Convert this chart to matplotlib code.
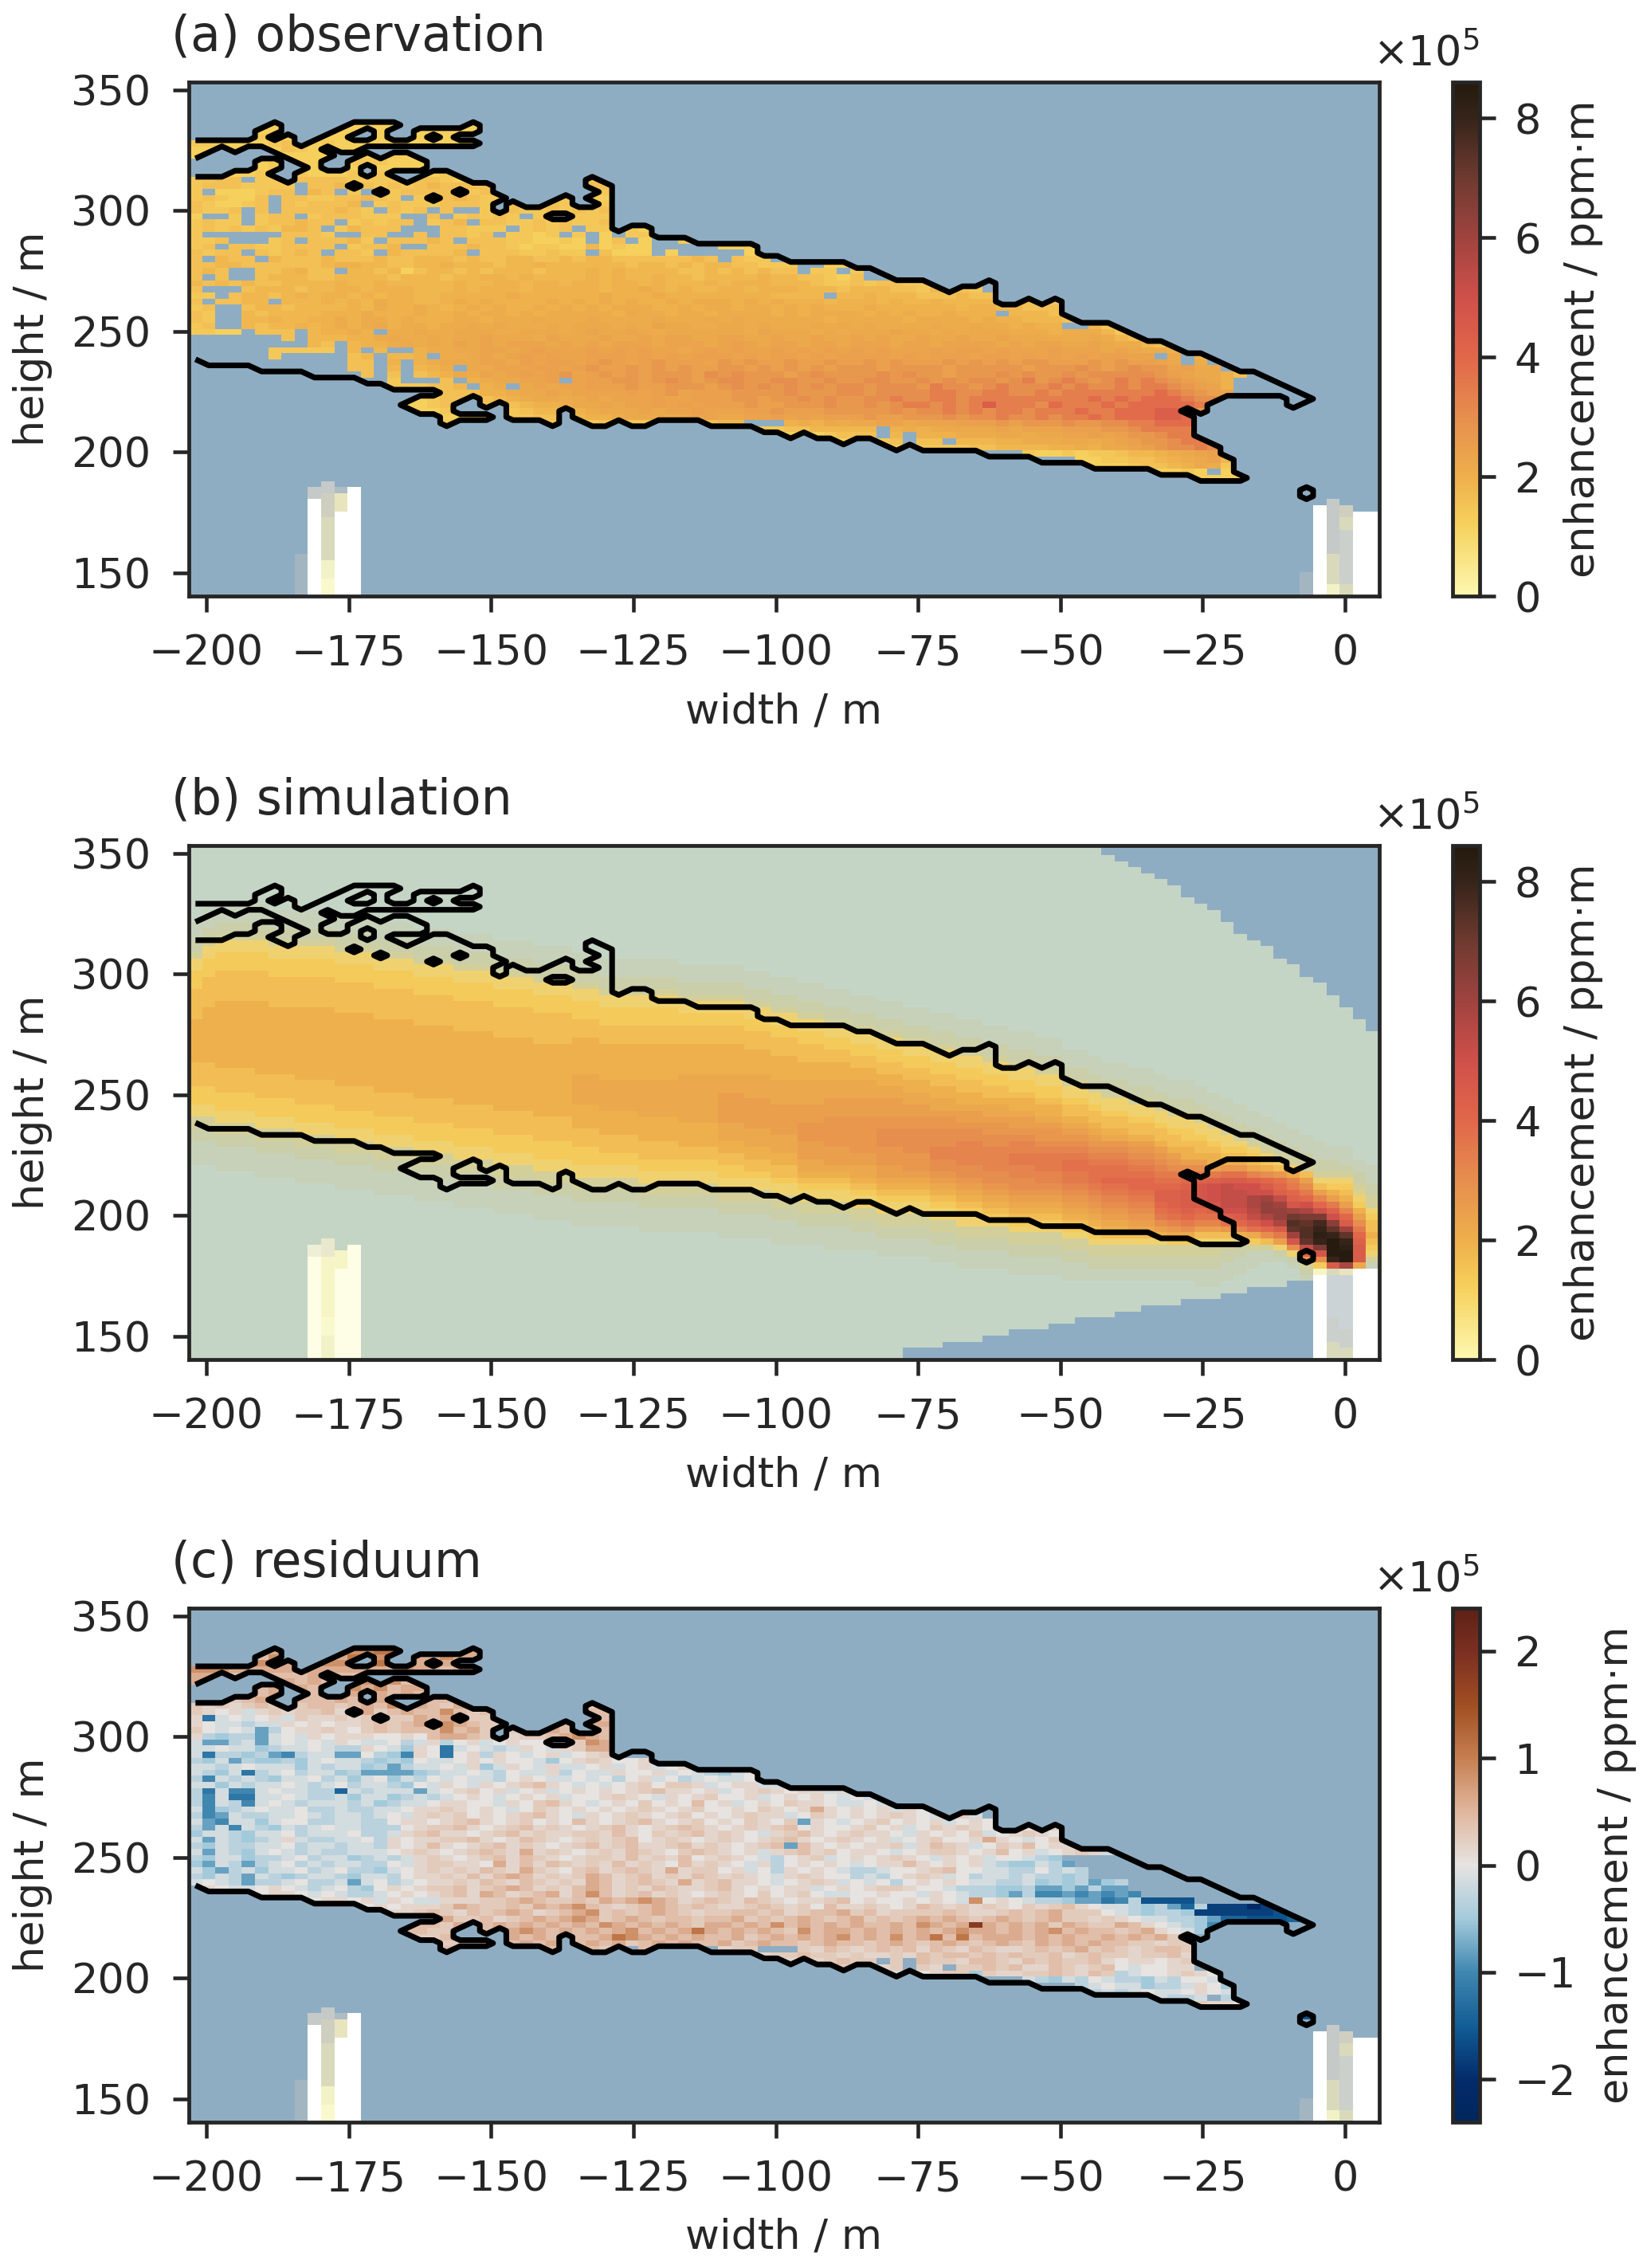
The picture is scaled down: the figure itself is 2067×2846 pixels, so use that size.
"""Plume enhancement maps: observation, simulation and residuum on a width/height grid."""
import numpy as np
import matplotlib
matplotlib.use('Agg')
import matplotlib.pyplot as plt
from matplotlib.cm import ScalarMappable
from matplotlib.colors import LinearSegmentedColormap, ListedColormap, Normalize, BoundaryNorm

NX, NY = 90, 85
LEVELS = '0123456789abcdefghijklmnopqrstuvwxyz'

X_EDGES = np.linspace(-203.07, 6.0, NX + 1)
Y_EDGES = np.linspace(354.4, 140.1, NY + 1)

titles = ['(a) observation', '(b) simulation', '(c) residuum']
x_ticks = [-200, -175, -150, -125, -100, -75, -50, -25, 0]
y_ticks = [150, 200, 250, 300, 350]

# plume outline: filled row runs for columns 0..84
mask_cols = [
    '10-12 16-45', '10-11 16-46', '10 16-46', '10-11 15-46', '10 15-46', '8-10 13-47',
    '7-8 10-11 13-14 16-47', '9-12 17-47', '11-13 15-47', '10-48', '9-10 12 15-48', '8-11 15-48',
    '7-8 10-11 13-16 18-48', '7 10 12-13 16-49', '7-10 13-17 19-49', '7 10 12-14 16-50',
    '10 12-14 17-50 53', '8-10 13-14 16-50 52-54', '8 10 15-18 20-50 52-54', '8-10 15-56',
    '8 10 16-17 19-52 55', '7-8 10 17-51 55', '17-53 55', '19 22-52', '20-55', '21-55', '21-55',
    '20-21 23-56', '19-21 23-53', '21-55', '16-17 19 21-56', '17-56', '25-55', '24-56', '24-56',
    '26-55', '26-55', '26-55', '27-55', '27-56', '27-56', '27-56', '27-56', '29-57', '29-57',
    '30-58', '30-57', '30-58', '30-58', '30-59', '31-58', '31-58', '32-59', '33-60', '33-59',
    '33-60', '34-60', '35-60', '34-60', '34-60', '33-61', '37-61', '37-61', '36-61', '37-62',
    '36-62', '39-62', '40-62', '40-63', '40-63', '41-63', '42-63', '43-63', '43-64', '44-64',
    '45-53 55-64', '45-54 59-65', '46-52 60-65', '47-51 62-65', '48-51 65', '48-51', '49-51',
    '50-51', '51-53', '52 67-68',
]

# observation, one string per row from row 7: first column | level per cell, '.' = below threshold
obs_levels = '456789abcdefghijk'
obs_values = [1.05, 1.2, 1.4, 1.6, 1.8, 1.95, 2.1, 2.2, 2.35, 2.45, 2.7, 3.0, 3.4, 3.9, 4.4, 4.9, 5.4]
obs_rows = [
    '0|5555555555 5555555555 5555',
    '0|5555555555 5555555555 5555',
    '0|5655565555 5555555555 5555',
    '0|6665556755 6555555555 5555',
    '0|5555555765 5555555555 5555',
    '0|5555555555 5565665555 5555',
    '0|5555556555 5566655555 5555',
    '0|5555656565 5556555555 5555',
    '0|5555566665 5565665556 6655',
    '0|6677.66777 7766666776 5677666666 66',
    '0|67776666.7 7877676787 7777777767 77',
    '0|6.555677.8 7.6.767777 6677777666 66',
    '0|676557.776 677876.677 8766677766 65',
    '0|765567.767 778.676667 7767766767 66',
    '0|7667.7.777 7876.767.7 ..67766767 67',
    '0|5..6.677.6 777666..7. 67676.6666 66',
    '0|6766.67787 7.67677.67 8.77667676 67',
    '0|6767676887 .68777...7 7666.6767. 66565',
    '0|6......777 6..77..7.7 767.6656.6 .5.66',
    '0|667...67.7 7786.77787 .777665565 .57.5..6',
    '0|67.7766777 7.6778..77 7877656655 85655.....555',
    '0|7677.76787 .776.87777 8.77766766 .7555.5.....5',
    '0|7.877.8777 8777877888 7877887787 8877777787 .766.',
    '0|7788777777 8998877889 8887889888 8887887878 877666..55',
    '0|787..77897 7.88785788 7878887888 9898888778 787877.66. 6.',
    '0|7.7..78887 7888878887 8899898888 9898898878 8889887765 7..',
    '0|8787877888 8988988888 9889989989 9899898889 8999888766 767766',
    '0|7...788878 8998999888 9899989999 9899a98988 9989998887 8887768776',
    '0|66.7887898 9989899889 9999a99999 9a999a9999 99998888.8 8988877787 7',
    '0|7.7788.888 9898a99889 a9a9999a9a 9a9a99a9aa a9a9a99989 9989889888 877766',
    '0|67..788788 8898a99a98 9a9a99a9a9 a9aaa99a9a a9aa9a9a99 9a99999989 988777',
    '0|76..878888 999a999a99 a9aa9a9aaa aa9baa9aa9 aaaa9a9aaa a9a9a99a99 9.8887',
    '0|76..889889 9a9aa9a999 aa9aaabaaa baaaabaaab abaaaaaa9a aaaa9aaaa9 a998887',
    '0|67..878898 9a9ab9aa9a ababaaabab bbabacbbaa bbabaaabab abaaaabaab aa9a99..86',
    '0|6655.777.8 99a9.aabaa bbbaabbbab cbbcbabbbb bbacbbbaba bbbcbbabab bbaaa9aaa8 6',
    '0|.......7.8 8899abaaba bbcbbbacbb bcbbcbccbb ccbbcbbcbb cbcbbcbbcb bcbbbaaaba 87',
    '0|.........8 7.899ababa cbcbcccbcb cbcccbcccb cdcbccbccb cccbccbccc cbcbccbbcb aa87',
    '0|......6666 6.8.8..9aa bbccbcdccc dcdcdccbcd cdccdcdcdc dcdcccdcdd cdcccdcccb cbaa97',
    '0|......6... ..78.889.a abcbcdcdcc dddcdcdcdd dcdcddcdcd dddcdcdddc ddcdcdcdcd dcc.b.9',
    '10|..77.9.9ab bbccbdcddc dedcdedddc ededdedded dededddede dedeeddded eddcb.a.',
    '10|..77.8.89a .bbcccddcd eddedededd eedededede eedeeeedee eeedeeefed efeecdbb',
    '10|...7.7.789 bacbcdcdec dededeeedf efeeedefee eefefeedee efefeefeff fffedcbb97',
    '10|.....6...7 .9abbccd.c ddeedefede ffeeffeefe effeefefef fefgefgfef gfgfedcb9',
    '10|.....66677 8.9a.bcbcc dddeddeeed efefefefef fefffegffe fgfffgfgff gfggfedc9',
    '19|7 7799abbcbc cccdcdecdd deeeefeeef feffffggff ggffgfgggg ggghgfedc',
    '17|567 7.789abbab cbcccdccdd deedeefefe effgffggfg gggggggghg hghhhgffd',
    '16|5567 ..7.7899ab bcbccdcdcd ddeddeeefe efefggfgfg igggfhgggh ghhhhhgfe',
    '17|556 ....678899 abbbcbccdc ccddedddee eeefeffgfg fggfggghgg hhhii.e',
    '19|5 566.667788 99abbbabcc bbccdcdcdd deddeeefef fgffgfgghg hhhiihh',
    '19|6 .......6.. 67.66....7 88...9a9ba bbccbcccdd dedeeefeef fgghhh',
    '43|6677888 88.9a9abbb bcbcccddde efgggg',
    '45|5.567 77.8.999aa abbabbccdc deefgg',
    '49|5 ..67.77.88 899aaabbab cdeefgg',
    '53|5.66667 7888899a9b bcdeffgf',
    '60|...6556566 7889abcd',
    '67|556 6778 9abc8',
    '68|55 56778 9ba6',
    '73|5565.5',
    '76|5555',
]

# residuum, one string per row from row 7, in units of 1e5
res_levels = '0123456789abcdefghijklmn'
res_values = [-2.4, -2.2, -2.0, -1.8, -1.6, -1.4, -1.2, -1.0, -0.8, -0.5, -0.33, -0.15, 0,
              0.15, 0.28, 0.42, 0.6, 0.85, 1.1, 1.3, 1.5, 1.8, 2.0, 2.2]
res_rows = [
    '0|ffffffggff hhhhiiiggg gggg',
    '0|ffffffhfgf ggiihgfggh gggg',
    '0|ggggghgggg hhhhigggfg gggh',
    '0|hhhgggggfg gggggghggf gghg',
    '0|gggffffffg ffffffffff',
    '0|gffffgfgfg ffghghffff',
    '0|ffffffgfgf fghghfggff',
    '0|ffffgfgfff ffgggfgfgg',
    '0|eeeefgfgff fgfhgfggff',
    '0|ededefefef fefgfhfgfe gfefgfeffe ee',
    '0|edcdbdedee fdegefgffh fefgefeefe ff',
    '0|d6bcbcdbed dedefeegfg feedfefffg gf',
    '0|dcbbabbdcd cddefefgfh gfeefeefff gg',
    '0|ecbcb8acdd edcefefffh fgefeefgfg ff',
    '0|da9aa8bcbd cdddccdcfg gfecdeefgh gf',
    '0|b88ab8bcbc bdcbbcabda cdbcdccefe hg',
    '0|bbcbb9abbc baadcb9dc6 bcbabdcbde gg',
    '0|b6aa9a87ab b88ca97dc6 cdadcbcdbc de',
    '0|a9b8a99a9b cbba9a9cbb cdcdccb9cd edccd',
    '0|bbabcbbb9b abb9a8abbc bd9bdcbdbb cdbcdbcd',
    '0|ba9b6abcab b9a88889ab bcbacbbdac bbdccdbcba 9bc',
    '0|a7baba9bbc ab9bc9bacb cbbacdcbbc bcacdbcabc bbc',
    '0|bb9babbcba bcabba9cbd cbdcdefdcb cbcdeceedb cddbb',
    '0|a6b77bcbba a5babbb8bc decdbcdbcd cdcdefddcd bcdedcddbd cd',
    '0|a7b66bbcba ab9bb9abab cdcbcdcdbc cdedcbdcde ccdbcdcdcb cb',
    '0|a7ba7bcbab bbab9abbcd dccbdcefdc bcdcecdcfc dbcdceddcb bcb',
    '0|b79abcbbca abaabbcdde dcdcbcedcd cdcdedcdec cdcedcdgdc dcdbdc',
    '0|a78baabbcb abbabcbded ecdcdefdcb dcdedcdecd cdeddbcedc dcdedcbdeb',
    '0|b87bb9bcca abbaacddcd efdcdecdcf dcdefdcdec dcedce8dcb cdecdcdbcd c',
    '0|a8b7ba9bab cbbaaacdee fdcdefdedc defdcdefed cdedefcdcc decdbceded cdbcde',
    '0|9bba9bbcab bbcaabdefd dcdefdedde edfdcedefd edcbdefdcd eddcbdcdce bcdedc',
    '0|b8ba9abdba abbcadcdde efdcdfedcd edefcdedcd edcdefdcde dcdbcdeccd gdcbce',
    '0|a9baabbcab babbadcdfd cdefdedcde fdefddefde dcdef8fdcd cddebdfedb cedfcdd',
    '0|b8ba9bcbab aabbbcdedc defedgdedc dedfedcefe dcdbdefdec ddcbcdeedc dfcdbcdedb',
    '0|a9bb9aabca bb9ababded cdefdfedcd eedfdedfcd edcbacdebc dcdedcbdcd bccba9',
    '0|98ba8abcab abbaacbdee ddcgdfdfed edfdedcfde dcbdacdcdc bcddfdcdcd ba99ba8',
    '0|b98ab9bbca bcaa9bcded edfedgedce fdefedgdee cdbcadcdcb aabccdefcc bbaacaba',
    '0|a9ba8ba9ab ba9bbacdde dfdfgfdede gfdefdedfe dedcbdedcc abacdedbca bbabaa9a',
    '0|bcba8aabca ab8bcabcdd edfedfededg fdefedgdef ddcbcdedbc bcacdcdcbb aab9a9a89a',
    '0|ddcbbcdcba bca9cdcdee fdefgfdedf gfdedfedde fdcdcddbcd cdeedccbaa a99a8898a8 8',
    '0|ccccccddcb cbaabcdcde fdgfdefgdf hfdefdedcd edcecdecbb ccdccbdcba a98a778787 87',
    '5|ccccc ddcdb dcbbdddeef gfeefegfgh gfdefedfed cddefcdccd cdcbhcdcba a98867a444 4',
    '13|cdcddde gfeefegfgh fedefgfefe ddefedecfd dedcdfeded edcedefdcb ba9a85a333 13',
    '15|ddefe dfefgfdefg hefefgfede effefdeffg efdeeeefed defefgeeec ba9aa93333 334',
    '19|g eefdefgfgh gefgfeffef fgefefgfef gefefgfgfe fgfefgeede dcbbaa9855 4445',
    '17|ffe gefgfgfgfg fhgfgfgfeg gfgfhfgfgf gffgfhgfgl gfgfgegfee gfdcba9775 55',
    '16|ffe efgffghgfg fgfghfgfgi gfgfgfehfg gfgfgfgfgh ggfgfghfgf fefgdcb99',
    '17|eef efgfgfgfgf fgihgfgfgf fgefgfgfgh fgfhfgififg ggfgfgffgf gfgee.9',
    '19|e eef.fgfgef gfgefgfgff gefgffefgf fefgfefgfe fgfegfgfgf feedee',
    '19|f .......f.. fed.fe....d ee...edfed efefdfedfe ddefefgefe deffed',
    '43|deefeed eddedfeffe fefeefdefe edeefd',
    '45|d.def ee.e.feedf fedfefeefd cddcde',
    '49|e ..de.ed.ee fefddfedef cbccdd',
    '53|b.cdee9 eddeefedfe abccdedc',
    '60|...ba9bacb aa9baccbc',
    '67|abc bb9a abdc9',
    '68|ab abcbb cdcb',
    '73|baab.a',
    '76|eddc',
    '84|4',
    '84|4',
]

# simulation: (first column, last column, 'row:level ...'), level 0 above the first entry
sim_bands = [
    (0, 0, '13:1 16:2 18:3 19:5 21:6 24:7 29:8 36:7 40:6 43:5 45:3 47:2 49:1 53:0'),
    (1, 1, '11:1 14:2 16:3 17:5 19:6 22:7 27:8 36:7 40:6 43:5 45:3 47:2 49:1 53:0'),
    (2, 4, '10:1 13:2 15:3 16:5 18:6 21:7 26:8 37:7 41:6 44:5 46:3 48:2 50:1 54:0'),
    (5, 5, '10:1 13:2 15:3 16:5 18:6 21:7 26:8 38:7 42:6 45:5 47:3 49:2 51:1 55:0'),
    (6, 7, '11:1 14:2 16:3 17:5 19:6 22:7 27:8 38:7 42:6 45:5 47:3 49:2 51:1 55:0'),
    (8, 10, '11:1 14:2 16:3 17:5 19:6 22:7 27:8 39:7 43:6 46:5 48:3 50:2 52:1 56:0'),
    (11, 13, '12:1 15:2 17:3 18:5 20:6 23:7 28:8 40:7 44:6 47:5 49:3 51:2 53:1 57:0'),
    (14, 16, '13:1 16:2 18:3 19:5 21:6 24:7 29:8 41:7 45:6 48:5 50:3 52:2 54:1 58:0'),
    (17, 19, '14:1 17:2 19:3 20:5 22:6 25:7 30:8 42:7 46:6 49:5 51:3 53:2 55:1 59:0'),
    (20, 22, '15:1 18:2 20:3 21:5 23:6 26:7 31:8 43:7 47:6 50:5 52:3 54:2 56:1 60:0'),
    (23, 25, '16:1 19:2 21:3 22:5 24:6 27:7 32:8 44:7 48:6 51:5 53:3 55:2 57:1 61:0'),
    (26, 28, '17:1 20:2 22:3 23:5 25:6 28:7 33:8 45:7 49:6 52:5 54:3 56:2 58:1 62:0'),
    (29, 30, '18:1 21:2 23:3 24:5 26:6 29:7 32:8 38:9 43:8 47:7 50:6 53:5 55:3 57:2 59:1 63:0'),
    (31, 33, '19:1 22:2 24:3 25:5 27:6 30:7 33:8 39:9 44:8 48:7 51:6 53:5 55:3 57:2 59:1 63:0'),
    (34, 36, '19:1 22:2 24:3 25:5 27:6 30:7 33:8 39:9 45:8 49:7 52:6 54:5 56:3 58:2 60:1 64:0'),
    (37, 39, '20:1 23:2 25:3 26:5 28:6 30:7 33:8 38:9 46:8 50:7 52:6 54:5 56:3 58:2 60:1 64:0'),
    (40, 41, '20:1 23:2 25:3 26:5 28:6 30:7 33:8 38:9 41:a 46:9 49:8 51:7 53:6 55:5 57:3 59:2 61:1 65:0'),
    (42, 43, '21:1 24:2 26:3 27:5 29:6 31:7 34:8 38:9 42:a 47:9 50:8 52:7 54:6 55:5 57:3 59:2 61:1 65:0'),
    (44, 45, '22:1 25:2 27:3 28:5 30:6 32:7 35:8 39:9 43:a 48:9 51:8 53:7 55:6 56:5 58:3 60:2 62:1 66:0'),
    (46, 47, '23:1 26:2 28:3 29:5 31:6 33:7 36:8 39:9 43:a 46:b 49:a 52:9 54:8 55:7 56:6 57:5 59:3 61:2 63:1 66:0'),
    (48, 49, '24:1 27:2 29:3 30:5 32:6 34:7 36:8 39:9 42:a 45:b 50:a 53:9 54:8 55:7 56:6 57:5 59:3 61:2 63:1 67:0'),
    (50, 51, '25:1 28:2 30:3 31:5 33:6 35:7 37:8 39:9 42:a 45:b 51:a 53:9 55:8 56:7 57:6 58:5 60:3 62:2 64:1 67:0'),
    (52, 53, '26:1 29:2 31:3 32:5 34:6 36:7 38:8 40:9 42:a 45:b 47:c 50:b 53:a 55:9 56:8 57:7 58:6 59:5 61:3 63:2 65:1 68:0'),
    (54, 55, '27:1 30:2 32:3 33:5 35:6 37:7 39:8 41:9 43:a 45:b 47:c 51:b 54:a 55:9 56:8 57:7 58:6 59:5 61:3 63:2 65:1 68:0'),
    (56, 57, '28:1 31:2 33:3 34:5 36:6 38:7 40:8 42:9 44:a 45:b 47:c 50:d 52:c 54:b 55:a 56:9 57:8 58:7 59:6 60:5 62:3 64:2 66:1 69:0'),
    (58, 59, '29:1 32:2 34:3 35:5 37:6 39:7 41:8 43:9 44:a 46:b 47:c 49:d 53:c 55:b 56:a 57:9 58:8 59:7 60:6 61:5 63:3 65:2 67:1 70:0'),
    (60, 61, '30:1 33:2 35:3 36:5 38:6 40:7 42:8 43:9 45:a 46:b 48:c 50:d 54:c 56:b 57:a 58:9 59:8 60:7 61:6 62:5 63:3 65:2 67:1 70:0'),
    (62, 63, '31:1 34:2 36:3 37:5 39:6 41:7 42:8 44:9 45:a 47:b 48:c 49:d 51:e 53:d 55:c 57:b 58:a 59:9 60:8 61:7 62:6 63:5 64:3 66:2 68:1 71:0'),
    (64, 65, '32:1 35:2 37:3 38:5 40:6 42:7 43:8 45:9 46:a 47:b 49:c 50:d 51:e 54:d 56:c 57:b 58:a 59:9 60:8 61:7 62:6 63:5 64:3 66:2 68:1 71:0'),
    (66, 67, '34:1 37:2 39:3 40:5 42:6 43:7 45:8 46:9 47:a 48:b 49:c 50:d 51:e 52:f 54:e 56:d 57:c 58:b 59:a 60:9 61:8 62:7 63:6 64:5 65:3 67:2 69:1 72:0'),
    (68, 68, '35:1 38:2 40:3 41:5 43:6 44:7 46:8 47:9 48:a 49:b 50:c 51:d 52:e 53:f 56:e 57:d 58:c 59:b 60:a 61:9 62:8 63:7 64:6 65:5 66:3 68:2 70:1 72:0'),
    (69, 70, '36:1 39:2 41:3 42:5 44:6 45:7 47:8 48:9 49:b 50:c 51:d 52:e 53:f 55:g 56:f 57:e 58:d 59:c 60:b 61:a 62:9 63:8 64:7 65:5 66:3 68:2 70:1 72:0'),
    (71, 72, '37:1 40:2 42:3 43:5 45:6 46:7 48:8 49:a 50:b 51:c 52:d 53:e 54:f 55:g 57:f 58:e 59:d 60:c 61:b 62:a 63:9 64:7 65:5 66:3 68:2 70:1 72:0'),
    (73, 73, '38:1 41:2 43:3 44:5 46:6 47:7 49:8 50:a 51:b 52:c 53:d 54:e 55:f 56:g 57:h 59:g 60:f 61:e 62:c 63:a 64:8 65:5 66:3 68:2 70:1 72:0'),
    (74, 74, '39:1 42:2 44:3 45:5 47:6 48:7 50:8 51:a 52:b 53:c 54:e 55:f 56:g 57:h 60:g 61:f 62:d 63:b 64:9 65:6 66:3 68:2 70:1 72:0'),
    (75, 75, '39:1 42:2 44:3 45:5 47:6 49:7 50:8 52:a 53:c 54:e 55:g 56:h 57:i 60:h 61:g 62:e 63:c 64:9 65:6 66:3 68:2 70:1 72:0'),
    (76, 76, '40:1 43:2 45:3 46:5 48:6 49:7 51:8 52:a 53:c 54:e 55:h 56:j 59:i 60:g 61:f 62:d 63:a 64:7 65:5 66:3 68:2 70:1 73:0'),
    (77, 77, '41:1 44:2 46:3 47:5 49:6 50:7 51:8 53:a 54:e 55:h 56:k 59:j 60:h 61:f 62:d 63:a 64:7 65:5 66:3 68:2 70:1 73:0'),
    (78, 78, '42:1 45:2 47:3 48:5 50:6 51:7 52:8 53:b 54:f 55:i 56:l 60:k 61:h 62:f 63:b 64:7 65:5 66:3 67:2 69:1 72:0'),
    (79, 79, '43:1 46:2 48:3 49:5 50:6 51:7 52:8 53:b 54:f 55:i 56:k 57:l 60:k 61:i 62:g 63:d 64:8 65:4 66:2 68:1 71:0'),
    (80, 80, '44:1 47:2 49:3 50:5 51:6 52:7 53:9 54:d 55:h 56:k 58:n 60:m 61:l 62:i 63:f 64:9 65:6 66:3 67:1 70:0'),
    (81, 81, '45:1 48:2 50:3 51:5 52:6 53:8 54:c 55:g 56:i 57:k 58:o 59:p 61:n 62:k 63:g 64:c 65:7 66:3 67:1 69:0'),
    (82, 82, '46:1 49:2 51:3 52:5 53:7 54:b 55:f 56:g 57:h 58:l 59:o 60:p 62:n 63:i 64:e 65:a 66:5 67:2 68:1 69:0'),
    (83, 83, '47:1 50:2 52:3 53:5 54:9 55:d 56:e 57:g 58:h 59:j 60:o 61:s 62:u 63:t 64:o 65:j 66:c 67:5 68:2 69:1 70:0'),
    (84, 84, '48:1 51:2 53:3 54:7 55:a 56:c 57:e 58:g 59:k 60:n 61:r 62:t 63:u 65:t 66:l 67:h 68:b 69:3 70:2 71:1 72:0'),
    (85, 85, '49:1 52:2 54:3 55:5 56:7 57:a 58:d 59:g 60:k 61:r 62:v 63:w 64:x 65:w 66:r 67:j 68:c 69:6 70:3'),
    (86, 86, '50:1 52:2 54:3 55:5 56:6 57:8 58:a 59:e 60:h 61:k 62:q 63:t 64:w 65:y 68:w 69:i 70:3'),
    (87, 87, '50:1 53:2 54:3 55:5 56:6 57:7 58:8 59:a 60:d 61:g 62:i 63:o 64:t 65:w 66:x 67:y 69:n 70:3'),
    (88, 88, '52:1 54:2 56:3 57:4 58:5 59:6 60:8 61:a 62:c 63:e 64:g 65:h 66:i 69:9'),
    (89, 89, '53:1 56:2 58:3 60:5 61:6 62:7 64:8 65:7 66:6 67:5 68:3 69:1'),
]
# columns 69..89: rows above this one are below the simulation threshold
sim_blue_top = [2, 3, 4, 5, 6, 7, 9, 10, 11, 13, 15, 16, 17, 19, 20, 22, 23, 25, 27, 29, 31]
# columns 54..84: rows from this one down are below the threshold
sim_blue_bottom = [83, 83, 83, 82, 82, 82, 81, 81, 80, 80, 80, 79, 79, 78, 78, 78, 77, 77, 76, 76, 76,
                   75, 75, 75, 74, 74, 73, 73, 73, 72, 72]

# stack cells without plume data, (column, 'row:colour ...'), drawn on top
stack_colours = {
    'w': '#ffffff', 'g': '#c5c9c8', 'b': '#afbcc3', 'e': '#cfcfc0', 'd': '#d9dabc', 'y': '#f2f2c8',
    'z': '#f9f9ce', 'f': '#a3b5c1', 'h': '#e8e5be', 'q': '#ccd0cc', 'm': '#efefd8', 'n': '#e9e8cc',
    'o': '#f5f5c5', 'u': '#fefee6', 'r': '#ccd3d6',
}
stack_ac = [
    (8, '78:f'), (9, '67:g 69:w'), (10, '66:g 68:e 72:d 79:y 82:z'), (11, '67:b 68:h 71:w'), (12, '67:w'),
    (84, '81:f'), (85, '70:w'), (86, '69:g 78:d 83:y'), (87, '70:e 72:d 74:q 83:d'), (88, '71:w'), (89, '71:w'),
]
stack_b = [
    (9, '66:m 68:u'), (10, '65:n 68:o 78:z 81:y'), (11, '67:o 70:u'), (12, '66:u'),
    (85, '70:o 71:w'), (86, '70:d 71:r 78:q 82:d'), (87, '70:h 71:r 80:q 83:d'), (88, '70:w'), (89, '70:w'),
]

# colour scales
enh_vals = [0, 0.8, 1.2, 2, 3, 4, 5, 6, 7, 8, 8.6]
enh_cols = ['#fdf8b0', '#f8de78', '#f6d05c', '#eeaf4b', '#e68e4e', '#e1674a', '#cf504a', '#a0433f',
            '#6f3a30', '#36241a', '#231a0c']
sim_low_vals = [0, 0.25, 0.5, 0.75, 1.0, 1.25, 1.5, 1.75, 2.0]
sim_low_cols = ['#c5d5c5', '#c7d1b8', '#cacea8', '#d2cf9a', '#ddd08a', '#efd26e', '#f4ca5a', '#f1bd54', '#eeb04c']
res_vals = [-2.4, -2, -1.5, -1, -0.5, 0, 0.5, 1, 1.5, 2, 2.4]
res_cols = ['#02265c', '#032c6b', '#125d95', '#4087b0', '#a4cadb', '#e6e3e1', '#e0b79e', '#c67f51',
            '#a04e22', '#7b2f22', '#5c2115']
background = '#8fadc2'

ENH_MAX = 8.6e5
RES_MAX = 2.4e5

plt.rcParams.update({
    'font.family': 'DejaVu Sans', 'font.size': 12.6, 'text.color': '#262626',
    'axes.labelcolor': '#262626', 'axes.edgecolor': '#262626', 'axes.linewidth': 1.15,
    'xtick.color': '#262626', 'ytick.color': '#262626',
    'xtick.major.size': 4.8, 'ytick.major.size': 4.8, 'xtick.major.width': 1.1, 'ytick.major.width': 1.1,
    'xtick.major.pad': 6.5, 'ytick.major.pad': 6.7, 'axes.labelpad': 5.5,
})


def fill_rows(rows, first_row, alphabet, values):
    grid = np.full((NY, NX), np.nan)
    for i, row in enumerate(rows):
        start, cells = row.split('|')
        cells = cells.replace(' ', '')
        for j, ch in enumerate(cells):
            col = int(start) + j
            if ch != '.' and col < NX:
                grid[first_row + i, col] = values[alphabet.index(ch)]
    return grid


def build_mask():
    mask = np.zeros((NY, NX))
    for col, runs in enumerate(mask_cols):
        for run in runs.split():
            lo, _, hi = run.partition('-')
            mask[int(lo):int(hi or lo) + 1, col] = 1
    return mask


def build_sim():
    grid = np.zeros((NY, NX))
    for first, last, steps in sim_bands:
        for step in steps.split():
            row, level = step.split(':')
            grid[int(row):, first:last + 1] = LEVELS.index(level)
    for i, row in enumerate(sim_blue_top):
        grid[:row, 69 + i] = np.nan
    for i, row in enumerate(sim_blue_bottom):
        grid[row:, 54 + i] = np.nan
    return grid


def scale_cmap(name, vals, cols):
    lo, hi = vals[0], vals[-1]
    return LinearSegmentedColormap.from_list(name, [((v - lo) / (hi - lo), c) for v, c in zip(vals, cols)], N=512)


def draw_stack(ax, cells):
    keys = list(stack_colours)
    grid = np.full((NY, NX), np.nan)
    for col, steps in cells:
        for step in steps.split():
            row, key = step.split(':')
            grid[int(row):, col] = keys.index(key)
    ax.pcolormesh(X_EDGES, Y_EDGES, grid, cmap=ListedColormap([stack_colours[k] for k in keys]),
                  norm=BoundaryNorm(np.arange(len(keys) + 1) - 0.5, len(keys)), zorder=2)


def draw_panel(top_px, title, grid, cmap, norm, bar_cmap, bar_norm, bar_ticks, stack):
    W, H = 2067.0, 2846.0
    height = 645.0
    ax = fig.add_axes([237 / W, 1 - (top_px + height) / H, (1731 - 237) / W, height / H])
    ax.set_facecolor(background)
    ax.pcolormesh(X_EDGES, Y_EDGES, grid, cmap=cmap, norm=norm, zorder=1)
    draw_stack(ax, stack)
    ax.contour(x_mid, y_mid[::-1], mask[::-1], levels=[0.5], colors='k', linewidths=1.7, zorder=3)
    ax.set_xlim(-203.07, 6.0)
    ax.set_ylim(140.3, 353.3)
    ax.set_xticks(x_ticks)
    ax.set_yticks(y_ticks)
    ax.set_xlabel('width / m')
    ax.set_ylabel('height / m')
    ax.set_title(title, loc='left', x=-0.015, pad=9.5, fontsize=14.8)

    cax = fig.add_axes([1823 / W, 1 - (top_px + height) / H, 34 / W, height / H])
    bar = fig.colorbar(ScalarMappable(norm=bar_norm, cmap=bar_cmap), cax=cax)
    bar.set_ticks(bar_ticks)
    bar.formatter.set_powerlimits((0, 0))
    bar.formatter.set_useMathText(True)
    bar.update_ticks()
    bar.set_label('enhancement / ppm·m', labelpad=7)
    cax.tick_params(pad=5.5)
    cax.yaxis.OFFSETTEXTPAD = 5
    offset = cax.yaxis.get_offset_text()
    offset.set_fontsize(12.6)
    offset.set_horizontalalignment('right')
    return ax


mask = build_mask()
x_mid = 0.5 * (X_EDGES[:-1] + X_EDGES[1:])
y_mid = 0.5 * (Y_EDGES[:-1] + Y_EDGES[1:])

obs = fill_rows(obs_rows, 7, obs_levels, obs_values) * 1e5
obs[mask == 0] = np.nan
sim = build_sim() * 0.25e5
res = fill_rows(res_rows, 7, res_levels, res_values) * 1e5
res[mask == 0] = np.nan

enh_cmap = scale_cmap('enh', enh_vals, enh_cols)
sim_cmap = scale_cmap('sim', sim_low_vals + enh_vals[4:], sim_low_cols + enh_cols[4:])
res_cmap = scale_cmap('res', res_vals, res_cols)
enh_norm = Normalize(0, ENH_MAX)
res_norm = Normalize(-RES_MAX, RES_MAX)
enh_ticks = [0, 2e5, 4e5, 6e5, 8e5]
res_ticks = [-2e5, -1e5, 0, 1e5, 2e5]

fig = plt.figure(figsize=(2067 / 300, 2846 / 300), dpi=300)
draw_panel(103, titles[0], obs, enh_cmap, enh_norm, enh_cmap, enh_norm, enh_ticks, stack_ac)
draw_panel(1061, titles[1], sim, sim_cmap, enh_norm, enh_cmap, enh_norm, enh_ticks, stack_b)
draw_panel(2018, titles[2], res, res_cmap, res_norm, res_cmap, res_norm, res_ticks, stack_ac)
fig.savefig('out.png', dpi=300)
